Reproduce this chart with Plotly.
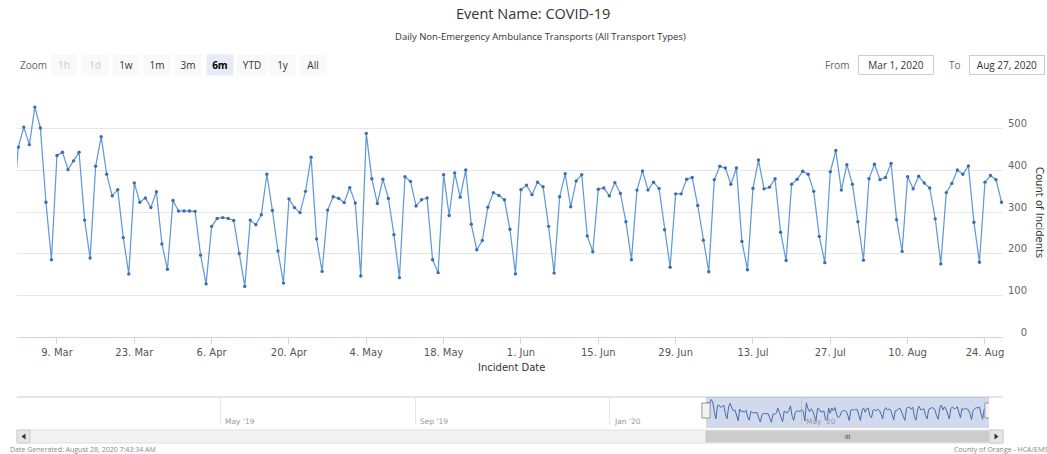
import pandas as pd
import plotly.graph_objects as go

W, H = 1047, 454

# ---------------- data ----------------
mar_counts = [300, 456, 504, 462, 552, 502, 324, 186, 436, 444, 402, 423, 444, 281, 190, 410,
              481, 391, 339, 354, 239, 152, 370, 324, 334, 311, 349, 224, 163, 328, 303]
apr_counts = [303, 303, 302, 197, 128, 266, 285, 287, 285, 280, 201, 122, 281, 270, 294,
              391, 304, 207, 130, 332, 311, 299, 350, 432, 236, 158, 305, 337, 333, 323]
may_counts = [359, 322, 147, 489, 380, 321, 379, 333, 246, 143, 385, 374, 315, 330, 334, 186,
              155, 390, 292, 394, 336, 401, 271, 210, 232, 312, 347, 340, 330, 259, 152]
jun_counts = [354, 365, 342, 372, 361, 266, 154, 337, 392, 313, 375, 390, 243, 205, 355,
              358, 339, 371, 345, 277, 186, 353, 399, 353, 372, 357, 258, 168, 344, 344]
jul_counts = [379, 383, 316, 233, 157, 378, 410, 406, 367, 406, 230, 162, 357, 425, 356, 360,
              380, 252, 184, 367, 379, 398, 391, 350, 242, 179, 397, 448, 353, 414, 367]
aug_counts = [277, 185, 380, 415, 378, 383, 417, 282, 206, 385, 356, 386, 370, 358, 284,
              176, 347, 369, 401, 391, 411, 276, 180, 372, 388, 378, 324]

start_date = "2020-03-01"
end_date = "2020-08-27"

x_tick_dates = ["2020-03-09", "2020-03-23", "2020-04-06", "2020-04-20", "2020-05-04",
                "2020-05-18", "2020-06-01", "2020-06-15", "2020-06-29", "2020-07-13",
                "2020-07-27", "2020-08-10", "2020-08-24"]
x_tick_labels = ["9. Mar", "23. Mar", "6. Apr", "20. Apr", "4. May", "18. May", "1. Jun",
                 "15. Jun", "29. Jun", "13. Jul", "27. Jul", "10. Aug", "24. Aug"]
y_ticks = [0, 100, 200, 300, 400, 500]

nav_tick_dates = ["2019-05-01", "2019-09-01", "2020-01-01", "2020-05-01"]
nav_tick_labels = ["May '19", "Sep '19", "Jan '20", "May '20"]

zoom_buttons = ["1h", "1d", "1w", "1m", "3m", "6m", "YTD", "1y", "All"]
zoom_disabled = ["1h", "1d"]
zoom_selected = "6m"

counts = mar_counts + apr_counts + may_counts + jun_counts + jul_counts + aug_counts
dates = pd.date_range(start_date, end_date, freq="D")

# ---------------- helpers ----------------
def px(x):
    return x / W

def py(y):
    return 1 - y / H

FONT = "DejaVu Sans, Verdana, sans-serif"
TFONT = "Open Sans, Arial, sans-serif"

sel_start = pd.Timestamp("2020-03-01 18:00")
sel_end = pd.Timestamp(end_date)

fig = go.Figure()

fig.add_trace(go.Scatter(
    x=dates, y=counts, mode="lines+markers",
    line=dict(color="#619ad8", width=1.25),
    marker=dict(color="#3c6db0", size=3.4),
    xaxis="x", yaxis="y", hoverinfo="x+y", showlegend=False))

fig.add_trace(go.Scatter(
    x=dates, y=counts, mode="lines",
    line=dict(color="#3d5fa8", width=1),
    xaxis="x2", yaxis="y2", hoverinfo="skip", showlegend=False))

fig.update_layout(
    width=W, height=H,
    margin=dict(l=0, r=0, t=0, b=0),
    paper_bgcolor="white", plot_bgcolor="white",
    font=dict(family=FONT, size=10, color="#666666"),
    xaxis=dict(
        domain=[px(17), px(1003)],
        type="date",
        range=["2020-03-01 18:20", "2020-08-27 06:20"],
        tickvals=x_tick_dates, ticktext=x_tick_labels,
        showgrid=False, zeroline=False,
        showline=True, linecolor="#ccd6eb", linewidth=1,
        ticks="outside", ticklen=6, tickcolor="#ccd6eb",
        tickfont=dict(family=FONT, size=10, color="#555555"),
        anchor="y", automargin=False, fixedrange=True),
    yaxis=dict(
        domain=[py(337.3), py(95)],
        range=[0, 581],
        side="left", anchor="free", position=px(1027),
        tickvals=y_ticks,
        showgrid=True, gridcolor="#e6e6e6", gridwidth=1,
        zeroline=False, showline=False,
        ticks="", ticklabelshift=-5, ticklabelstandoff=0,
        tickfont=dict(family=FONT, size=10, color="#666666"),
        automargin=False, fixedrange=True),
    xaxis2=dict(
        domain=[px(30), px(989)],
        type="date",
        range=["2019-01-01", end_date],
        tickvals=nav_tick_dates,
        showticklabels=False,
        showgrid=True, gridcolor="#e6e6e6",
        zeroline=False, showline=False, ticks="",
        anchor="y2", automargin=False, fixedrange=True),
    yaxis2=dict(
        domain=[py(424), py(398)],
        range=[90, 580],
        showticklabels=False, showgrid=False, zeroline=False, showline=False,
        anchor="x2", automargin=False, fixedrange=True),
)

shapes = []
annotations = []

def note(text, x, y, size, color, family=TFONT, xanchor="center", **kw):
    d = dict(text=text, x=px(x), y=py(y), xref="paper", yref="paper", showarrow=False,
             xanchor=xanchor, yanchor="middle", font=dict(family=family, size=size, color=color))
    d.update(kw)
    annotations.append(d)

# titles
note("Event Name: COVID-19", 533, 13, 14.5, "#333333")
note("Daily Non-Emergency Ambulance Transports (All Transport Types)", 540, 37, 9.5, "#333333")

# range selector
note("Zoom", 18, 65, 10, "#666666", xanchor="left")
btn_x = [64, 95, 126, 157, 188, 220, 252, 283, 313]
for lab, bx in zip(zoom_buttons, btn_x):
    sel = lab == zoom_selected
    dis = lab in zoom_disabled
    note(("<b>%s</b>" % lab) if sel else lab, bx, 65, 10,
         "#cccccc" if dis else ("#000000" if sel else "#333333"),
         width=24 if lab != "YTD" else 28, height=18,
         bgcolor="#e6ebf5" if sel else "#f9f9f9")

note("From", 852, 65, 10, "#666666", xanchor="right")
note("Mar 1, 2020", 896, 65, 10, "#333333", width=72, height=16,
     bordercolor="#cccccc", borderwidth=1, bgcolor="white")
note("To", 963, 65, 10, "#666666", xanchor="right")
note("Aug 27, 2020", 1007, 65, 10, "#333333", width=72, height=16,
     bordercolor="#cccccc", borderwidth=1, bgcolor="white")

# axis titles
note("Incident Date", 511, 367, 10, "#333333", family=FONT)
note("Count of Incidents", 1040, 212, 10, "#333333", family=FONT, textangle=90)

# navigator
shapes.append(dict(type="line", xref="paper", yref="paper", x0=px(17), x1=px(1003),
                   y0=py(397), y1=py(397), line=dict(color="#cccccc", width=1)))
shapes.append(dict(type="rect", xref="x2", yref="paper", x0=sel_start, x1=sel_end,
                   y0=py(428), y1=py(397), fillcolor="rgba(102,133,194,0.3)",
                   line=dict(width=0), layer="above"))
half = pd.Timedelta(hours=62)
for hx in [sel_start, sel_end]:
    shapes.append(dict(type="rect", xref="x2", yref="paper", x0=hx - half, x1=hx + half,
                       y0=py(418), y1=py(403), fillcolor="#f2f2f2",
                       line=dict(color="#999999", width=1), layer="above"))
for d, lab in zip(nav_tick_dates, nav_tick_labels):
    annotations.append(dict(text=lab, x=d, y=py(421), xref="x2", yref="paper", xanchor="left",
                            yanchor="middle", xshift=2, showarrow=False,
                            font=dict(family=FONT, size=7.5, color="#999999")))

# scrollbar
shapes.append(dict(type="rect", xref="paper", yref="paper", x0=px(17), x1=px(1003),
                   y0=py(443), y1=py(430), fillcolor="#f2f2f2",
                   line=dict(color="#e0e0e0", width=1)))
shapes.append(dict(type="rect", xref="x2", yref="paper", x0=sel_start, x1=sel_end,
                   y0=py(442), y1=py(431), fillcolor="#cccccc", line=dict(color="#cccccc", width=1)))
shapes.append(dict(type="rect", xref="paper", yref="paper", x0=px(17), x1=px(30),
                   y0=py(443), y1=py(430), fillcolor="#e6e6e6", line=dict(color="#cccccc", width=1)))
shapes.append(dict(type="rect", xref="paper", yref="paper", x0=px(990), x1=px(1003),
                   y0=py(443), y1=py(430), fillcolor="#e6e6e6", line=dict(color="#cccccc", width=1)))
shapes.append(dict(type="path", xref="paper", yref="paper",
                   path="M %f %f L %f %f L %f %f Z" % (px(25.5), py(433.5), px(21.5), py(436.5), px(25.5), py(439.5)),
                   fillcolor="#333333", line=dict(width=0)))
shapes.append(dict(type="path", xref="paper", yref="paper",
                   path="M %f %f L %f %f L %f %f Z" % (px(994.5), py(433.5), px(998.5), py(436.5), px(994.5), py(439.5)),
                   fillcolor="#333333", line=dict(width=0)))
note("III", 848, 436.5, 6, "#333333", family=FONT)

# footer
note("Date Generated: August 28, 2020 7:43:34 AM", 8, 449, 7, "#888888", xanchor="left")
note("County of Orange - HCA/EMS", 1050, 449, 7, "#888888", xanchor="right")

fig.update_layout(shapes=shapes, annotations=annotations)

fig.write_html("out.html", config={"displayModeBar": False},
               post_script="document.body.style.margin='0';")
